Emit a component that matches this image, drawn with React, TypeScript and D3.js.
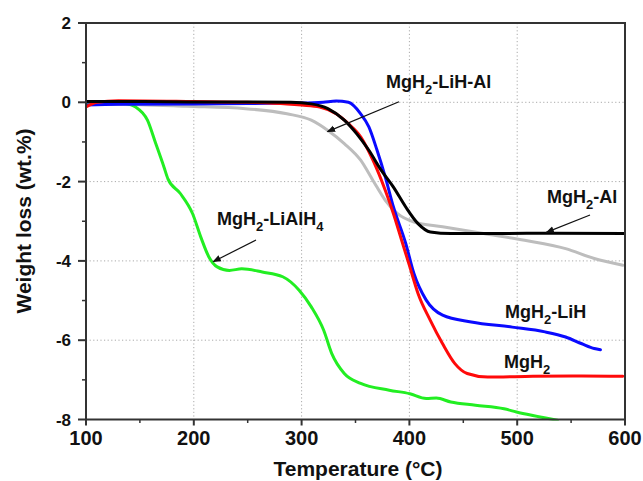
import React from "react";
import * as d3 from "d3";

const W = 643, H = 481;
const ML = 86, MR = 625, MT = 23, MB = 419.5;

const xTicks = [100, 200, 300, 400, 500, 600];
const xMinor = [150, 250, 350, 450, 550];
const yTicks = [2, 0, -2, -4, -6, -8];
const yMinor = [1, -1, -3, -5, -7];
const xGrid = [200, 300, 400, 500];
const yGrid = [0, -2, -4, -6];

const greenT = [100, 120, 135, 146, 157, 164.7, 172.3, 176, 187.5, 198.9, 206.5, 214, 221.7, 233, 244.5, 263.5, 282.5, 297.7, 309, 320.5, 328, 339.6, 354.8, 381.3, 400.4, 415.6, 425, 438.4, 461.3, 487.8, 499.3, 514.5, 537.3];
const greenW = [0, 0.02, -0.02, -0.12, -0.45, -1.04, -1.63, -1.93, -2.3, -2.81, -3.4, -3.9, -4.15, -4.24, -4.2, -4.28, -4.4, -4.74, -5.16, -5.75, -6.34, -6.84, -7.09, -7.26, -7.35, -7.47, -7.46, -7.56, -7.64, -7.73, -7.81, -7.9, -8.02];

const blueT = [100, 130, 200, 250, 300, 320, 332, 343.4, 354.8, 362.4, 370, 377.6, 385.2, 396.6, 404.2, 415.6, 430.8, 457.4, 495.4, 525.8, 544.9, 560, 571.5, 577.2];
const blueW = [-0.07, -0.05, -0.04, -0.03, -0.02, 0, 0.03, 0, -0.29, -0.62, -1.21, -1.88, -2.64, -3.56, -4.32, -4.99, -5.37, -5.54, -5.67, -5.79, -5.92, -6.09, -6.21, -6.24];

const redT = [100, 110, 130, 200, 250, 286.4, 300, 316.8, 332, 343.4, 354.8, 366.2, 377.6, 385.2, 392.8, 400.4, 408, 419.4, 430.8, 442.2, 453.6, 472.6, 514.5, 560, 598];
const redW = [-0.12, 0, 0.04, 0.02, 0, -0.04, -0.07, -0.12, -0.29, -0.54, -0.87, -1.46, -2.22, -2.81, -3.48, -4.15, -4.82, -5.5, -6.09, -6.59, -6.84, -6.93, -6.91, -6.9, -6.91];

const blackT = [100, 150, 200, 250, 290, 309, 324.4, 339.6, 351, 362.4, 373.8, 385.2, 396.6, 408, 419.4, 438.4, 484, 534, 600];
const blackW = [0.02, 0.02, 0.01, 0.01, 0, -0.04, -0.16, -0.45, -0.79, -1.21, -1.71, -2.14, -2.64, -3.06, -3.27, -3.31, -3.31, -3.3, -3.31];

const grayT = [100, 150, 193, 248, 286.4, 309, 324.4, 339.6, 354.8, 366.2, 377.6, 389, 404.2, 430.8, 468.8, 506.9, 544.9, 571.5, 598];
const grayW = [-0.05, -0.06, -0.1, -0.16, -0.29, -0.45, -0.71, -1.04, -1.46, -1.97, -2.47, -2.81, -3.02, -3.14, -3.31, -3.48, -3.69, -3.94, -4.11];

const series = [
  { name: "MgH2-Al", T: grayT, w: grayW, color: "#bdbdbd" },
  { name: "MgH2-LiAlH4", T: greenT, w: greenW, color: "#22ee22" },
  { name: "MgH2-LiH", T: blueT, w: blueW, color: "#0a0aff" },
  { name: "MgH2", T: redT, w: redW, color: "#ff0a0a" },
  { name: "MgH2-LiH-Al", T: blackT, w: blackW, color: "#000000" },
];

const FONT = "'Liberation Sans', Arial, Helvetica, sans-serif";

export default function App() {
  const x = d3.scaleLinear().domain([100, 600]).range([ML, MR]);
  const y = d3.scaleLinear().domain([-8, 2]).range([MB, MT]);
  const line = d3
    .line<[number, number]>()
    .x((d) => x(d[0]))
    .y((d) => y(d[1]))
    .curve(d3.curveMonotoneX);

  const axisColor = "#333";

  const Label = ({ x0, y0, parts }: { x0: number; y0: number; parts: [string, string?][] }) => (
    <text x={x0} y={y0} fontFamily={FONT} fontWeight="bold" fontSize={18} fill="#111">
      {parts.map((p, i) =>
        p[1] === "sub" ? (
          <tspan key={i} fontSize={13} dy={6}>{p[0]}</tspan>
        ) : (
          <tspan key={i} dy={i > 0 && parts[i - 1][1] === "sub" ? -6 : 0}>{p[0]}</tspan>
        )
      )}
    </text>
  );

  return (
    <svg width={W} height={H} style={{ position: "absolute", left: 0, top: 0, background: "#fff" }}>
      <defs>
        <marker id="arr" viewBox="0 0 10 10" refX="9" refY="5" markerWidth="7" markerHeight="7" orient="auto-start-reverse">
          <path d="M0,1 L10,5 L0,9 z" fill="#111" />
        </marker>
        <clipPath id="plot">
          <rect x={ML} y={MT} width={MR - ML} height={MB - MT + 1} />
        </clipPath>
      </defs>
      {/* grid */}
      {xGrid.map((t) => (
        <line key={"gx" + t} x1={x(t)} x2={x(t)} y1={MT} y2={MB} stroke="#aaa" strokeWidth={1} strokeDasharray="1.2,2.4" />
      ))}
      {yGrid.map((t) => (
        <line key={"gy" + t} x1={ML} x2={MR} y1={y(t)} y2={y(t)} stroke="#aaa" strokeWidth={1} strokeDasharray="1.2,2.4" />
      ))}
      {/* curves */}
      <g clipPath="url(#plot)">
        {series.map((s) => (
          <path
            key={s.name}
            d={line(s.T.map((t, i) => [t, s.w[i]] as [number, number])) || ""}
            fill="none"
            stroke={s.color}
            strokeWidth={3}
            strokeLinejoin="round"
            strokeLinecap="round"
          />
        ))}
      </g>
      {/* frame */}
      <rect x={ML} y={MT} width={MR - ML} height={MB - MT} fill="none" stroke={axisColor} strokeWidth={2} />
      {/* ticks */}
      {xTicks.map((t) => (
        <g key={"xt" + t}>
          <line x1={x(t)} x2={x(t)} y1={MB} y2={MB + 6} stroke={axisColor} strokeWidth={2} />
          <text x={x(t)} y={MB + 25.5} textAnchor="middle" fontFamily={FONT} fontWeight="bold" fontSize={20} fill="#111">
            {t}
          </text>
        </g>
      ))}
      {xMinor.map((t) => (
        <line key={"xm" + t} x1={x(t)} x2={x(t)} y1={MB} y2={MB + 3.5} stroke={axisColor} strokeWidth={1.5} />
      ))}
      {yTicks.map((t) => (
        <g key={"yt" + t}>
          <line x1={ML - 8} x2={ML} y1={y(t)} y2={y(t)} stroke={axisColor} strokeWidth={2} />
          <text x={ML - 15} y={y(t) + 6} textAnchor="end" fontFamily={FONT} fontWeight="bold" fontSize={17} fill="#111">
            {t}
          </text>
        </g>
      ))}
      {yMinor.map((t) => (
        <line key={"ym" + t} x1={ML - 4} x2={ML} y1={y(t)} y2={y(t)} stroke={axisColor} strokeWidth={1.5} />
      ))}
      {/* axis titles */}
      <text x={358} y={476} textAnchor="middle" fontFamily={FONT} fontWeight="bold" fontSize={21} fill="#111">
        Temperature (°C)
      </text>
      <text
        transform={`translate(30.5,221) rotate(-90)`}
        textAnchor="middle"
        fontFamily={FONT}
        fontWeight="bold"
        fontSize={21}
        fill="#111"
      >
        Weight loss (wt.%)
      </text>
      {/* annotations */}
      <Label x0={386} y0={88} parts={[["MgH"], ["2", "sub"], ["-LiH-Al"]]} />
      <line x1={399} y1={101.7} x2={x(324)} y2={y(-0.74)} stroke="#111" strokeWidth={1.2} markerEnd="url(#arr)" />
      <Label x0={217} y0={225} parts={[["MgH"], ["2", "sub"], ["-LiAlH"], ["4", "sub"]]} />
      <line x1={256} y1={240} x2={x(218)} y2={y(-4.02)} stroke="#111" strokeWidth={1.2} markerEnd="url(#arr)" />
      <Label x0={547} y0={203} parts={[["MgH"], ["2", "sub"], ["-Al"]]} />
      <line x1={590} y1={215} x2={x(527)} y2={y(-3.28)} stroke="#111" strokeWidth={1.2} markerEnd="url(#arr)" />
      <Label x0={505} y0={318} parts={[["MgH"], ["2", "sub"], ["-LiH"]]} />
      <Label x0={504} y0={368} parts={[["MgH"], ["2", "sub"]]} />
    </svg>
  );
}
